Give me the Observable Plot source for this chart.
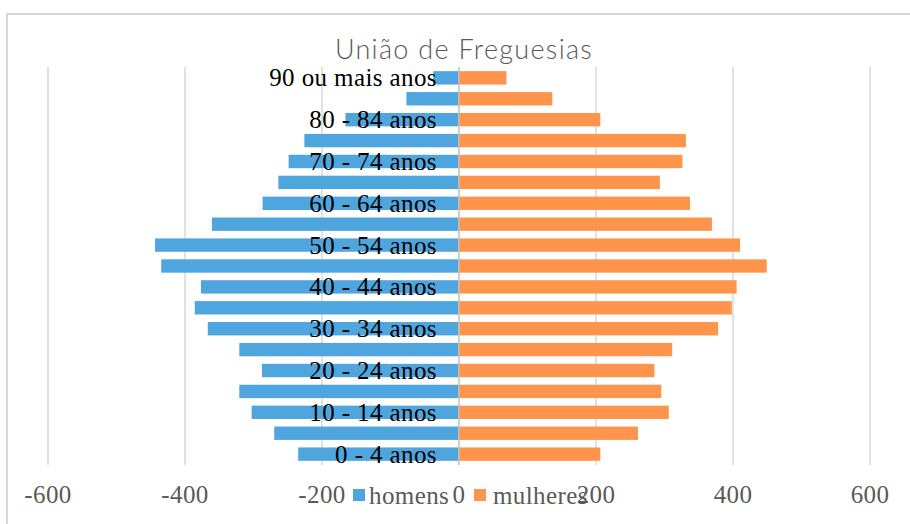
<!DOCTYPE html>
<html>
<head>
<meta charset="utf-8">
<script src="https://cdn.jsdelivr.net/npm/d3@7"></script>
<script src="https://cdn.jsdelivr.net/npm/@observablehq/plot@0.6"></script>
<style>
  html, body { margin: 0; padding: 0; background: #fff; }
  #wrap { position: relative; width: 910px; height: 524px; overflow: hidden; }
  #border { position: absolute; left: 6px; top: 13px; width: 1000px; height: 600px; border: 2px solid #d9d9d9; box-sizing: border-box; }
  #title { position: absolute; left: 464px; top: 35px; transform: translateX(-50%); font-family: Lato, "Open Sans", sans-serif; font-weight: 300; font-size: 27px; line-height: 27px; color: #595959; letter-spacing: 1.3px; white-space: nowrap; }
  .leg { position: absolute; top: 483px; font-family: "Liberation Serif", serif; font-size: 25px; line-height: 25px; letter-spacing: 0.4px; color: #595959; white-space: nowrap; }
  .sw { position: absolute; top: 489px; width: 12px; height: 12px; }
  #chart { position: absolute; left: 0; top: 0; }
  #chart svg text { letter-spacing: 0.4px; }
</style>
</head>
<body>
<div id="wrap">
  <div id="border"></div>
  <div id="chart"></div>
  <div id="title"></div>
</div>
<script>
const title = "União de Freguesias";
const ages = ["0 - 4 anos","5 - 9 anos","10 - 14 anos","15 - 19 anos","20 - 24 anos","25 - 29 anos","30 - 34 anos","35 - 39 anos","40 - 44 anos","45 - 49 anos","50 - 54 anos","55 - 59 anos","60 - 64 anos","65 - 69 anos","70 - 74 anos","75 - 79 anos","80 - 84 anos","85 - 89 anos","90 ou mais anos"];
const homens = [234,269,302,320,287,320,366,385,376,434,443,360,286,263,248,225,165,76,37];
const mulheres = [207,262,307,296,286,312,379,399,406,450,411,370,338,294,327,332,207,137,70];
const seriesNames = ["homens","mulheres"];
const seriesColors = ["#4fa6de","#ff954c"];
const xTicks = [-600,-400,-200,0,200,400,600];

const rows = [];
ages.forEach((a, i) => {
  rows.push({age: a, sex: seriesNames[0], value: -homens[i]});
  rows.push({age: a, sex: seriesNames[1], value: mulheres[i]});
});
const labelAges = ages.filter((a, i) => i % 2 === 0);

const plot = Plot.plot({
  width: 910,
  height: 524,
  marginLeft: 47.5,
  marginRight: 40.5,
  marginTop: 67,
  marginBottom: 59,
  style: {fontFamily: "'Liberation Serif', serif", fontSize: "25px", background: "transparent", overflow: "visible"},
  x: {domain: [-600, 600], ticks: xTicks},
  y: {domain: ages.slice().reverse(), paddingInner: 0.36, paddingOuter: 0.2, round: false, axis: null},
  color: {domain: seriesNames, range: seriesColors},
  marks: [
    Plot.ruleX(xTicks.filter(t => t !== 0), {stroke: "#d9d9d9", strokeWidth: 1.5}),
    Plot.barX(rows, {x: "value", y: "age", fill: "sex"}),
    Plot.ruleX([0], {stroke: "#bfbfbf", strokeWidth: 1.5}),
    Plot.axisX({ticks: xTicks, tickSize: 0, tickPadding: 20, tickFormat: d => d < 0 ? "-" + Math.abs(d) : String(d), fill: "#595959", fontSize: 25, label: null}),
    Plot.text(labelAges, {x: () => 0, y: d => d, text: d => d, textAnchor: "end", dx: -22, fill: "#000", fontSize: 25})
  ]
});
document.getElementById("chart").appendChild(plot);
document.getElementById("title").textContent = title;

const wrap = document.getElementById("wrap");
const legPos = [{sw: 353, tx: 369}, {sw: 474, tx: 493}];
seriesNames.forEach((n, i) => {
  const s = document.createElement("div");
  s.className = "sw";
  s.style.left = legPos[i].sw + "px";
  s.style.background = seriesColors[i];
  wrap.appendChild(s);
  const t = document.createElement("div");
  t.className = "leg";
  t.style.left = legPos[i].tx + "px";
  t.textContent = n;
  wrap.appendChild(t);
});
</script>
</body>
</html>
